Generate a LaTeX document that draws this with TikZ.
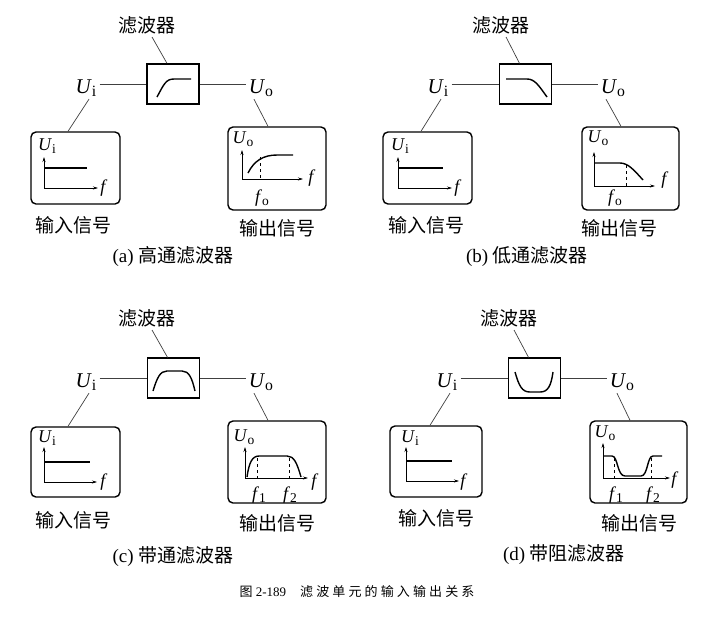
\documentclass[tikz,border=0pt]{standalone}
\usepackage{fontspec}
\setmainfont{Liberation Serif}
\newfontfamily\cjk{Noto Sans CJK SC}
\newfontfamily\cjkcap[LetterSpace=24]{Noto Sans CJK SC}
\usetikzlibrary{arrows.meta}
\newcommand{\sub}[1]{\raisebox{-0.15em}{\scalebox{0.75}{\upshape #1}}}

\begin{document}
\begin{tikzpicture}[x=1pt,y=-1pt,
  filt/.style={draw, line width=1.3pt, minimum width=52pt, minimum height=40pt, inner sep=0pt},
  sig/.style={draw, line width=1.4pt, rounded corners=5pt, inner sep=0pt},
  wire/.style={draw=black!75, line width=0.7pt},
  ax/.style={line width=0.6pt, {Stealth[length=5pt,width=3pt]}-{Stealth[length=5pt,width=3pt]}},
  crv/.style={line width=1.4pt},
  lbl/.style={inner sep=0pt, font=\cjk\fontsize{19}{19}\selectfont},
  vbig/.style={inner sep=0pt, font=\fontsize{21}{21}\selectfont},
  vsm/.style={inner sep=0pt, font=\fontsize{18}{18}\selectfont}]
\useasboundingbox (0,0) rectangle (708,622);

% (a) high pass
\node[lbl] (a-lab) at (147,25) {滤波器};
\node[filt] (a-filt) at (173,84) {};
\draw[crv] (157,97) .. controls (164,84) and (166,79) .. (174,79) -- (191,79);
\node[vbig] (a-ui) at (86,88.5) {\textit{U}\sub{i}};
\node[vbig] (a-uo) at (261,88.5) {\textit{U}\sub{o}};
\draw[wire] ([xshift=3pt]a-ui.east |- a-filt.west) -- (a-filt.west);
\draw[wire] (a-filt.east) -- ([xshift=-3pt]a-uo.west |- a-filt.east);
\draw[wire] ([xshift=5pt,yshift=-3pt]a-lab.south) -- ([xshift=-6pt]a-filt.north);
\node[sig, minimum width=89pt, minimum height=72pt] (a-in) at (75.5,168) {};
\node[sig, minimum width=98pt, minimum height=83pt] (a-out) at (277,168.5) {};
\draw[wire] ([xshift=3pt,yshift=-2pt]a-ui.south) -- ([xshift=-7.5pt]a-in.north);
\draw[wire] ([xshift=-7pt,yshift=-2pt]a-uo.south) -- ([xshift=-9pt]a-out.north);
\draw[ax] (44,157) -- (44,188) -- (98,188);
\draw[crv] (44,168) -- (87,168);
\node[vsm] (a-in-u) at (47,146) {\textit{U}\sub{i}};
\node[vsm] (a-in-f) at (104,188) {\textit{f}};
\draw[ax] (242,150) -- (242,179) -- (303,179);
\draw[crv] (248,173) .. controls (254,161) and (263,155) .. (277,155) -- (293,155);
\draw[dashed] (260,157) -- (260,179);
\node[vsm] (a-out-u) at (243,139) {\textit{U}\sub{o}};
\node[vsm] (a-out-f) at (312,178) {\textit{f}};
\node[vsm] (a-f0) at (262,198) {\textit{f}\sub{o}};
\node[lbl] (a-intext) at (73,225) {输入信号};
\node[lbl] (a-outtext) at (277,228) {输出信号};
\node[lbl, font=\fontsize{19}{19}\selectfont] (a-cap) at (173,257) {(a) {\cjk 高通滤波器}};

% (b) low pass
\node[lbl] (b-lab) at (501,25) {滤波器};
\node[filt] (b-filt) at (525.5,84) {};
\draw[crv] (506,79) -- (527,79) .. controls (535,79) and (539,86) .. (547,97);
\node[vbig] (b-ui) at (438,88.5) {\textit{U}\sub{i}};
\node[vbig] (b-uo) at (613,88.5) {\textit{U}\sub{o}};
\draw[wire] ([xshift=3pt]b-ui.east |- b-filt.west) -- (b-filt.west);
\draw[wire] (b-filt.east) -- ([xshift=-3pt]b-uo.west |- b-filt.east);
\draw[wire] ([xshift=5pt,yshift=-3pt]b-lab.south) -- ([xshift=-6pt]b-filt.north);
\node[sig, minimum width=89pt, minimum height=72pt] (b-in) at (427.5,168) {};
\node[sig, minimum width=97pt, minimum height=83pt] (b-out) at (630.5,168.5) {};
\draw[wire] ([xshift=3pt,yshift=-2pt]b-ui.south) -- ([xshift=-6.5pt]b-in.north);
\draw[wire] ([xshift=-7pt,yshift=-2pt]b-uo.south) -- ([xshift=-9.5pt]b-out.north);
\draw[ax] (398,157) -- (398,188) -- (452,188);
\draw[crv] (398,168) -- (443,168);
\node[vsm] (b-in-u) at (400,146) {\textit{U}\sub{i}};
\node[vsm] (b-in-f) at (458,188) {\textit{f}};
\draw[ax] (594,152) -- (594,186) -- (655,186);
\draw[crv] (594,163) -- (620,163) .. controls (628,163) and (634,170) .. (643,180);
\draw[dashed] (626,165) -- (626,186);
\node[vsm] (b-out-u) at (598,138) {\textit{U}\sub{o}};
\node[vsm] (b-out-f) at (665,180) {\textit{f}};
\node[vsm] (b-f0) at (615,198) {\textit{f}\sub{o}};
\node[lbl] (b-intext) at (426,225) {输入信号};
\node[lbl] (b-outtext) at (619,228) {输出信号};
\node[lbl, font=\fontsize{19}{19}\selectfont] (b-cap) at (527,257) {(b) {\cjk 低通滤波器}};

% (c) band pass
\node[lbl] (c-lab) at (147,318) {滤波器};
\node[filt] (c-filt) at (173.5,378) {};
\draw[crv] (153,391) .. controls (157,378) and (160,371) .. (167,371) -- (182,371) .. controls (189,371) and (192,378) .. (195,391);
\node[vbig] (c-ui) at (86,382.5) {\textit{U}\sub{i}};
\node[vbig] (c-uo) at (261,382.5) {\textit{U}\sub{o}};
\draw[wire] ([xshift=3pt]c-ui.east |- c-filt.west) -- (c-filt.west);
\draw[wire] (c-filt.east) -- ([xshift=-3pt]c-uo.west |- c-filt.east);
\draw[wire] ([xshift=5pt,yshift=-3pt]c-lab.south) -- ([xshift=-6pt]c-filt.north);
\node[sig, minimum width=89pt, minimum height=70pt] (c-in) at (75.5,462) {};
\node[sig, minimum width=98pt, minimum height=82pt] (c-out) at (277,462) {};
\draw[wire] ([xshift=3pt,yshift=-2pt]c-ui.south) -- ([xshift=-7.5pt]c-in.north);
\draw[wire] ([xshift=-7pt,yshift=-2pt]c-uo.south) -- ([xshift=-9pt]c-out.north);
\draw[ax] (44,447) -- (44,482) -- (97,482);
\draw[crv] (44,462) -- (90,462);
\node[vsm] (c-in-u) at (47,438) {\textit{U}\sub{i}};
\node[vsm] (c-in-f) at (104,482) {\textit{f}};
\draw[ax] (245,447) -- (245,478) -- (308,478);
\draw[crv] (247,477) .. controls (249,463) and (252,456) .. (259,456) -- (287,456) .. controls (294,456) and (297,463) .. (301,477);
\draw[dashed] (257,458) -- (257,478);
\draw[dashed] (289,458) -- (289,478);
\node[vsm] (c-out-u) at (244,437) {\textit{U}\sub{o}};
\node[vsm] (c-out-f) at (315,482) {\textit{f}};
\node[vsm] (c-f1) at (259,495) {\textit{f}\sub{1}};
\node[vsm] (c-f2) at (290,495) {\textit{f}\sub{2}};
\node[lbl] (c-intext) at (73,520) {输入信号};
\node[lbl] (c-outtext) at (277,523) {输出信号};
\node[lbl, font=\fontsize{19}{19}\selectfont] (c-cap) at (173,557) {(c) {\cjk 带通滤波器}};

% (d) band stop
\node[lbl] (d-lab) at (509,318) {滤波器};
\node[filt] (d-filt) at (534.5,378) {};
\draw[crv] (515,372) .. controls (519,386) and (522,392) .. (530,392) -- (540,392) .. controls (548,392) and (551,386) .. (553,372);
\node[vbig] (d-ui) at (447,382.5) {\textit{U}\sub{i}};
\node[vbig] (d-uo) at (622,382.5) {\textit{U}\sub{o}};
\draw[wire] ([xshift=3pt]d-ui.east |- d-filt.west) -- (d-filt.west);
\draw[wire] (d-filt.east) -- ([xshift=-3pt]d-uo.west |- d-filt.east);
\draw[wire] ([xshift=5pt,yshift=-3pt]d-lab.south) -- ([xshift=-6pt]d-filt.north);
\node[sig, minimum width=92pt, minimum height=71pt] (d-in) at (436,461.5) {};
\node[sig, minimum width=97pt, minimum height=82pt] (d-out) at (638.5,462) {};
\draw[wire] ([xshift=3pt,yshift=-2pt]d-ui.south) -- ([xshift=-6pt]d-in.north);
\draw[wire] ([xshift=-5pt,yshift=-2pt]d-uo.south) -- ([xshift=-8.5pt]d-out.north);
\draw[ax] (406,447) -- (406,481) -- (459,481);
\draw[crv] (406,461) -- (452,461);
\node[vsm] (d-in-u) at (410,438) {\textit{U}\sub{i}};
\node[vsm] (d-in-f) at (464,482) {\textit{f}};
\draw[ax] (603,443) -- (603,478) -- (670,478);
\draw[crv] (603,456) -- (612,456) .. controls (618,456) and (617,476) .. (625,476) -- (641,476) .. controls (648,476) and (647,456) .. (653,456) -- (662,456);
\draw[dashed] (614,458) -- (614,478);
\draw[dashed] (651,458) -- (651,478);
\node[vsm] (d-out-u) at (605,433) {\textit{U}\sub{o}};
\node[vsm] (d-out-f) at (675,480) {\textit{f}};
\node[vsm] (d-f1) at (616,495) {\textit{f}\sub{1}};
\node[vsm] (d-f2) at (653,495) {\textit{f}\sub{2}};
\node[lbl] (d-intext) at (436,518) {输入信号};
\node[lbl] (d-outtext) at (639,523) {输出信号};
\node[lbl, font=\fontsize{19}{19}\selectfont] (d-cap) at (564,555) {(d) {\cjk 带阻滤波器}};

% figure caption
\node[inner sep=0pt, font=\fontsize{13}{13}\selectfont] (figcap) at (357,592) {{\cjkcap 图} 2-189\hspace{14pt}{\cjkcap 滤波单元的输入输出关系}};
\end{tikzpicture}
\end{document}
